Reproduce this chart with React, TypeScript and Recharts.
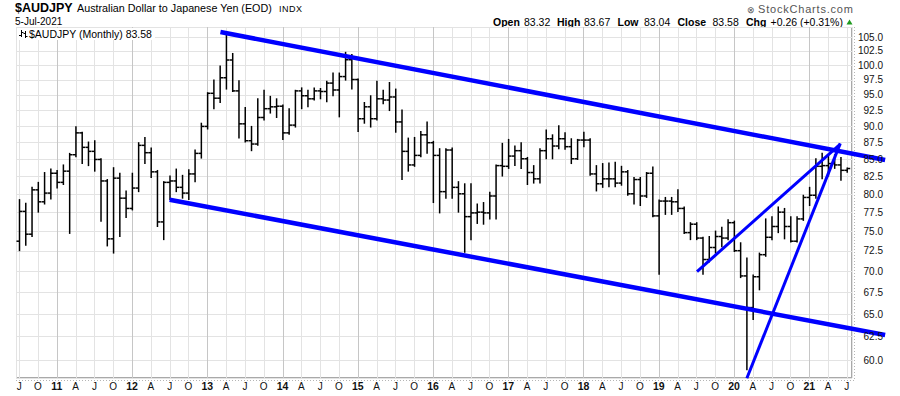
import React from 'react';
import { ComposedChart, Bar, XAxis, YAxis, CartesianGrid, ReferenceLine } from 'recharts';

// ---------- data (monthly OHLC, AUD/JPY, Jul 2010 .. Jul 2021) ----------
const START_YEAR = 2010;
const START_MONTH = 6; // 0-based: July

const OPEN = [
  73.7, 77.6, 74.6, 80.55, 78.9, 80.1,
  82.9, 81.6, 83.2, 85.6, 88.9, 86.7, 86.1, 84.9, 81.8, 74.0, 82.2, 79.4,
  78.0, 80.8, 87.0, 85.9, 83.1, 76.2, 81.6, 81.8, 80.9, 80.1, 82.8, 85.8,
  89.9, 95.2, 94.4, 97.8, 100.85, 95.6, 90.3, 87.7, 87.2, 91.3, 92.7, 93.0,
  93.1, 88.9, 90.1, 95.6, 94.8, 94.3, 95.6, 95.5, 96.9, 95.75, 98.0, 100.9,
  97.5, 91.1, 93.0, 91.1, 94.3, 94.1, 94.6, 90.6, 86.1, 84.1, 85.5, 88.6,
  87.4, 85.5, 80.3, 86.3, 80.9, 80.0, 76.9, 77.4, 77.5, 77.4, 79.7, 84.0,
  83.9, 85.4, 86.2, 85.0, 83.0, 82.1, 86.2, 88.0, 86.9, 88.0, 86.8, 85.0,
  87.8, 87.8, 82.8, 81.4, 82.1, 82.1, 81.5, 83.1, 80.0, 82.0, 79.7, 82.9,
  77.0, 79.0, 79.0, 78.9, 78.0, 74.8, 75.9, 74.1, 71.4, 72.9, 74.3, 74.1,
  76.1, 72.5, 69.4, 65.7, 69.3, 72.0, 74.2, 75.6, 77.5, 75.6, 73.7, 76.6,
  79.5, 79.8, 83.9, 84.0, 84.3, 84.1, 83.32,
];

const HIGH = [
  79.2, 78.7, 80.9, 81.6, 83.0, 83.5,
  83.3, 84.1, 85.8, 89.85, 89.0, 87.5, 87.7, 85.0, 82.0, 83.7, 82.9, 80.4,
  82.9, 87.4, 88.2, 86.6, 83.3, 81.7, 82.5, 83.5, 82.6, 83.4, 86.3, 90.4,
  95.3, 97.4, 99.8, 105.7, 102.0, 97.3, 92.9, 89.9, 94.3, 95.7, 94.7, 94.3,
  93.3, 92.7, 95.7, 96.1, 95.7, 96.1, 96.0, 97.2, 98.6, 98.6, 102.2, 101.8,
  97.6, 93.7, 94.8, 97.2, 95.7, 97.0, 95.9, 92.5, 88.1, 88.2, 89.1, 90.6,
  87.6, 86.5, 86.5, 86.6, 81.7, 81.4, 81.4, 78.6, 78.8, 80.2, 84.1, 87.3,
  87.9, 86.9, 87.4, 85.2, 84.0, 86.5, 89.35, 88.6, 90.0, 88.9, 88.0, 87.9,
  89.0, 88.0, 84.0, 84.3, 84.4, 84.5, 83.9, 83.3, 82.3, 82.3, 83.0, 83.8,
  79.15, 79.5, 79.5, 80.55, 78.2, 76.1, 76.1, 74.2, 74.3, 75.0, 75.5, 76.5,
  76.3, 73.5, 71.6, 69.5, 72.2, 76.6, 76.9, 78.2, 78.0, 76.9, 76.9, 79.8,
  80.9, 85.0, 85.8, 85.4, 85.6, 85.2, 83.67,
];

const LOW = [
  72.5, 73.2, 74.3, 77.5, 78.6, 79.3,
  80.8, 81.3, 74.7, 85.3, 84.3, 84.0, 83.2, 76.3, 73.1, 72.2, 74.3, 76.8,
  77.8, 80.3, 84.3, 82.3, 75.6, 73.9, 79.2, 80.3, 79.4, 79.2, 81.7, 85.1,
  89.5, 92.7, 93.7, 95.9, 95.5, 88.1, 87.5, 86.2, 87.0, 90.9, 92.0, 91.3,
  87.9, 88.7, 89.8, 92.7, 93.0, 94.1, 94.3, 93.8, 94.8, 91.4, 97.4, 95.9,
  89.1, 90.4, 89.8, 90.9, 93.5, 92.4, 89.0, 82.0, 83.2, 83.9, 85.3, 85.8,
  78.8, 77.4, 79.4, 79.4, 77.5, 72.3, 73.9, 76.0, 75.9, 76.6, 76.6, 82.5,
  83.6, 84.0, 83.6, 81.3, 81.5, 81.5, 85.0, 85.0, 86.5, 86.4, 84.3, 84.9,
  86.8, 82.6, 80.4, 80.9, 81.0, 81.0, 81.2, 79.8, 78.6, 78.4, 79.5, 76.9,
  69.6, 77.2, 77.2, 77.6, 74.7, 73.9, 73.9, 69.6, 71.1, 72.2, 73.0, 73.9,
  72.4, 69.2, 59.0, 64.35, 67.75, 71.8, 73.9, 74.8, 74.0, 73.6, 73.6, 76.4,
  78.4, 79.4, 82.1, 82.5, 83.6, 81.9, 83.04,
];

const CLOSE = [
  77.6, 74.6, 80.55, 78.9, 80.1, 82.9,
  81.6, 83.2, 85.6, 88.9, 86.7, 86.1, 84.9, 81.8, 74.0, 82.2, 79.4, 78.0,
  80.8, 87.0, 85.9, 83.1, 76.2, 81.6, 81.8, 80.9, 80.1, 82.8, 85.8, 89.9,
  95.2, 94.4, 97.8, 100.85, 95.6, 90.3, 87.7, 87.2, 91.3, 92.7, 93.0, 93.1,
  88.9, 90.1, 95.6, 94.8, 94.3, 95.6, 95.5, 96.9, 95.75, 98.0, 100.9, 97.5,
  91.1, 93.0, 91.1, 94.3, 94.1, 94.6, 90.6, 86.1, 84.1, 85.5, 88.6, 87.4,
  85.5, 80.3, 86.3, 80.9, 80.0, 76.9, 77.4, 77.5, 77.4, 79.7, 84.0, 83.9,
  85.4, 86.2, 85.0, 83.0, 82.1, 86.2, 88.0, 86.9, 88.0, 86.8, 85.0, 87.8,
  87.8, 82.8, 81.4, 82.1, 82.1, 81.5, 83.1, 80.0, 82.0, 79.7, 82.9, 77.0,
  79.0, 79.0, 78.9, 78.0, 74.8, 75.9, 74.1, 71.4, 72.9, 74.3, 74.1, 76.1,
  72.5, 69.4, 65.7, 69.3, 72.0, 74.2, 75.6, 77.5, 75.6, 73.7, 76.6, 79.5,
  79.8, 83.9, 84.0, 84.3, 84.1, 83.32, 83.58,
];

const PRICE_TICKS = [60, 62.5, 65, 67.5, 70, 72.5, 75, 77.5, 80, 82.5, 85, 87.5, 90, 92.5, 95, 97.5, 100, 102.5, 105];
const PRICE_DOMAIN = [58.16, 106.78];
const MONTH_LETTERS = ['J', 'F', 'M', 'A', 'M', 'J', 'J', 'A', 'S', 'O', 'N', 'D'];

// trend lines in (bar index, price) coordinates
const CHANNEL_LINES = [
  { from: [32.1, 105.86], to: [138.1, 84.82] },
  { from: [24.0, 79.19], to: [138.1, 62.66] },
];
const WEDGE_LINES = [
  { from: [108.1, 69.92], to: [130.95, 87.2] },
  { from: [116.05, 58.13], to: [130.95, 87.3] },
];

const HEADER = {
  symbol: '$AUDJPY',
  name: 'Australian Dollar to Japanese Yen (EOD)',
  exch: 'INDX',
  date: '5-Jul-2021',
  legend: '$AUDJPY (Monthly) 83.58',
  open: '83.32', high: '83.67', low: '83.04', close: '83.58', chg: '+0.26 (+0.31%)',
};

// ---------- derived table ----------
const data = OPEN.map((o, i) => {
  const m = (START_MONTH + i) % 12;
  const y = START_YEAR + Math.floor((START_MONTH + i) / 12);
  return { key: `${y}-${m + 1}`, i, o, h: HIGH[i], l: LOW[i], c: CLOSE[i], range: [LOW[i], HIGH[i]], month: m, year: y };
});
const N = data.length;
const quarterKeys = data.filter((d) => d.month % 3 === 0).map((d) => d.key);
const labelOf: Record<string, { text: string; bold: boolean }> = {};
data.forEach((d) => {
  labelOf[d.key] = d.month === 0
    ? { text: String(d.year % 100).padStart(2, '0'), bold: true }
    : { text: MONTH_LETTERS[d.month], bold: false };
});

const FONT = '"Liberation Sans", Arial, sans-serif';

const OhlcShape = (props: any) => {
  const { x, y, width, height, payload } = props;
  if (x == null || y == null || !payload) return null;
  const cx = x + width / 2;
  const top = Math.min(y, y + height);
  const bot = Math.max(y, y + height);
  const lh = Math.log(payload.h);
  const ll = Math.log(payload.l);
  const span = lh - ll || 1;
  const py = (v: number) => top + ((bot - top) * (lh - Math.log(v))) / span;
  const yo = py(payload.o);
  const yc = py(payload.c);
  return (
    <g stroke="#000" strokeWidth={1.5}>
      <line x1={cx} y1={top - 0.5} x2={cx} y2={bot + 0.5} />
      <line x1={cx - 3} y1={yo} x2={cx} y2={yo} />
      <line x1={cx} y1={yc} x2={cx + 3} y2={yc} />
    </g>
  );
};

const gridV = (p: any) => {
  const k = quarterKeys[p.index];
  const isYear = k ? labelOf[k].bold : false;
  const xx = Math.round(p.x1) + 0.5;
  return <line key={p.key ?? `v${p.index}`} x1={xx} y1={p.y1} x2={xx} y2={p.y2} stroke={isYear ? '#c6c6c6' : '#e3e3e3'} strokeWidth={1} />;
};
const gridH = (p: any) => {
  const yy = Math.round(p.y1) + 0.5;
  return <line key={p.key ?? `h${p.index}`} x1={p.x1} y1={yy} x2={p.x2} y2={yy} stroke="#e3e3e3" strokeWidth={1} />;
};

const XTick = (p: any) => {
  const lab = labelOf[p.payload.value];
  if (!lab) return null;
  return (
    <text x={p.x} y={p.y + 12} textAnchor="middle" fontFamily={FONT} fontSize={lab.bold ? 10.5 : 10} fontWeight={lab.bold ? 'bold' : 'normal'} fill="#111">
      {lab.text}
    </text>
  );
};
const YTick = (p: any) => (
  <text x={p.x + 31} y={p.y + 3.8} textAnchor="end" fontFamily={FONT} fontSize={10} fill="#111">
    {Number(p.payload.value).toFixed(1)}
  </text>
);

export default function App() {
  return (
    <div style={{ position: 'absolute', left: 0, top: 0, width: 900, height: 396, background: '#fff', overflow: 'hidden' }}>
      {/* under layer: titles and plot frame */}
      <svg width={900} height={396} style={{ position: 'absolute', left: 0, top: 0 }}>
        <text x={15} y={12} fontFamily={FONT} fontSize={12.5} fontWeight="bold" fill="#000">{HEADER.symbol}</text>
        <text x={77} y={12} fontFamily={FONT} fontSize={10.75} fill="#000">{HEADER.name}</text>
        <text x={279} y={12} fontFamily={FONT} fontSize={9} letterSpacing={0.5} fill="#000">{HEADER.exch}</text>
        <text x={15} y={24.5} fontFamily={FONT} fontSize={10} fill="#000">{HEADER.date}</text>
        <text x={747} y={12.5} fontFamily={FONT} fontSize={9} fill="#555">⊗</text>
        <text x={758} y={12.5} fontFamily={FONT} fontSize={11} letterSpacing={0.8} fill="#555">StockCharts.com</text>
        <g fontFamily={FONT} fontSize={10.5} fill="#000">
          <text x={493} y={25.5} fontWeight="bold">Open</text>
          <text x={524} y={25.5}>{HEADER.open}</text>
          <text x={557} y={25.5} fontWeight="bold">High</text>
          <text x={584} y={25.5}>{HEADER.high}</text>
          <text x={617.5} y={25.5} fontWeight="bold">Low</text>
          <text x={644} y={25.5}>{HEADER.low}</text>
          <text x={677.5} y={25.5} fontWeight="bold">Close</text>
          <text x={712.5} y={25.5}>{HEADER.close}</text>
          <text x={746} y={25.5} fontWeight="bold">Chg</text>
          <text x={770.5} y={25.5}>{HEADER.chg}</text>
        </g>
        <path d="M846.5 24.5 L852.5 24.5 L849.5 19.5 Z" fill="#1f9a1f" />
        <rect x={16.5} y={27.5} width={835} height={350} fill="none" stroke="#a9a9a9" />
        <line x1={854.5} y1={27} x2={854.5} y2={380} stroke="#b5b5b5" strokeDasharray="1 2" />
        <line x1={16} y1={380.5} x2={854} y2={380.5} stroke="#b5b5b5" strokeDasharray="1 2" />
      </svg>

      <div style={{ position: 'absolute', left: 0, top: 0 }}>
        <ComposedChart width={900} height={396} data={data} margin={{ top: 27, right: 0, bottom: 0, left: 16 }}>
          <CartesianGrid vertical={gridV} horizontal={gridH} />
          <XAxis
            dataKey="key"
            type="category"
            ticks={quarterKeys}
            interval={0}
            tick={<XTick />}
            tickLine={false}
            tickSize={0}
            tickMargin={0}
            axisLine={false}
            height={18}
            padding={{ left: 0, right: 2 }}
          />
          <XAxis
            xAxisId="idx"
            type="number"
            dataKey="i"
            domain={[-0.5, N - 0.5]}
            allowDataOverflow
            hide
            padding={{ left: 0, right: 2 }}
          />
          <YAxis
            orientation="right"
            scale="log"
            type="number"
            domain={PRICE_DOMAIN}
            allowDataOverflow
            ticks={PRICE_TICKS}
            interval={0}
            tick={<YTick />}
            tickLine={false}
            tickSize={0}
            tickMargin={0}
            axisLine={false}
            width={48}
          />
          <Bar dataKey="range" barSize={5} isAnimationActive={false} shape={(p: any) => <OhlcShape {...p} />} />
          {CHANNEL_LINES.map((ln, k) => (
            <ReferenceLine
              key={`c${k}`}
              xAxisId="idx"
              segment={[{ x: ln.from[0], y: ln.from[1] }, { x: ln.to[0], y: ln.to[1] }]}
              stroke="#0000ff"
              strokeWidth={4.5}
              ifOverflow="visible"
            />
          ))}
          {WEDGE_LINES.map((ln, k) => (
            <ReferenceLine
              key={`w${k}`}
              xAxisId="idx"
              segment={[{ x: ln.from[0], y: ln.from[1] }, { x: ln.to[0], y: ln.to[1] }]}
              stroke="#0000ff"
              strokeWidth={3}
              ifOverflow="visible"
            />
          ))}
        </ComposedChart>
      </div>

      {/* legend inside the plot */}
      <svg width={900} height={396} style={{ position: 'absolute', left: 0, top: 0, pointerEvents: 'none' }}>
        <rect x={17} y={28} width={138} height={12} fill="#fff" />
        <g stroke="#000" strokeWidth={1}>
          <line x1={21.5} y1={30} x2={21.5} y2={37} />
          <line x1={19} y1={35.5} x2={21.5} y2={35.5} />
          <line x1={21.5} y1={32.5} x2={23.5} y2={32.5} />
          <line x1={25.5} y1={31} x2={25.5} y2={38} />
          <line x1={23.5} y1={33.5} x2={25.5} y2={33.5} />
          <line x1={25.5} y1={36.5} x2={27.5} y2={36.5} />
        </g>
        <text x={29} y={37.5} fontFamily={FONT} fontSize={10.5} fill="#000">{HEADER.legend}</text>
      </svg>
    </div>
  );
}
